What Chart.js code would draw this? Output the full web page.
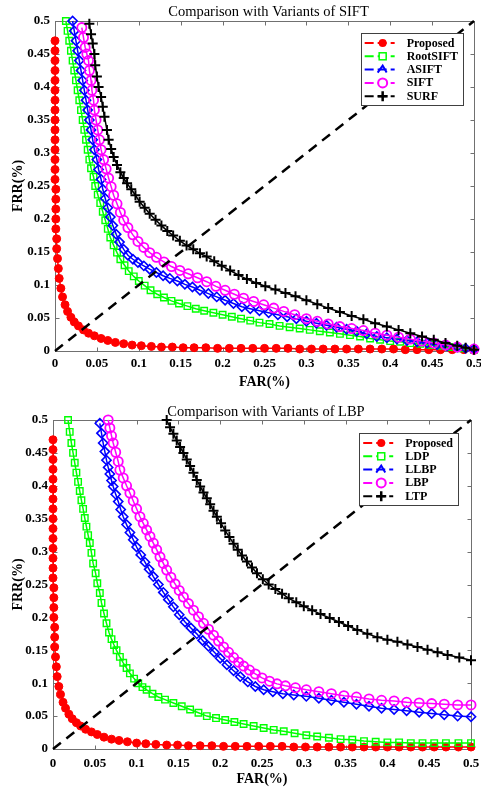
<!DOCTYPE html>
<html><head><meta charset="utf-8">
<script src="https://cdn.jsdelivr.net/npm/chart.js@4.4.0/dist/chart.umd.min.js"></script>
<style>
html,body{margin:0;padding:0;background:#fff;overflow:hidden;width:481px;height:787px;}
#w1{position:absolute;left:0;top:0;}
#w2{position:absolute;left:0;top:393px;}
</style></head><body>
<div id="w1"><canvas id="c1" width="481" height="393"></canvas></div>
<div id="w2"><canvas id="c2" width="481" height="396"></canvas></div>
<script>
// ---------- data: [FAR, FRR] pairs ----------
const axisTicks = [0,0.05,0.1,0.15,0.2,0.25,0.3,0.35,0.4,0.45,0.5];
const axisTickLabels = ['0','0.05','0.1','0.15','0.2','0.25','0.3','0.35','0.4','0.45','0.5'];

const titleSift = 'Comparison with Variants of SIFT';
const titleLbp = 'Comparison with Variants of LBP';
const namesSift = ['Proposed','RootSIFT','ASIFT','SIFT','SURF'];
const namesLbp = ['Proposed','LDP','LLBP','LBP','LTP'];

const proposedSift = [[0,.47],[0,.455],[0,.44],[0,.425],[0,.41],[0,.395],[0,.38],[0,.365],[0,.35],[0,.335],[0,.32],[0,.305],[0,.29],[0,.275],[0,.26],[.001,.245],[.001,.23],[.001,.215],[.001,.2],[.001,.185],[.002,.17],[.002,.155],[.003,.14],[.004,.125],[.005,.11],[.007,.095],[.009,.082],[.012,.07],[.015,.06],[.019,.051],[.023,.044],[.028,.038],[.034,.032],[.04,.027],[.047,.023],[.055,.019],[.063,.016],[.072,.013],[.082,.011],[.092,.009],[.103,.008],[.115,.007],[.127,.006],[.14,.006],[.153,.005],[.166,.005],[.18,.005],[.194,.004],[.208,.004],[.222,.004],[.236,.004],[.25,.004],[.264,.004],[.278,.004],[.292,.003],[.306,.003],[.32,.003],[.334,.003],[.348,.003],[.362,.003],[.376,.003],[.39,.003],[.404,.003],[.418,.002],[.432,.002],[.446,.002],[.46,.002],[.474,.002],[.488,.002],[.5,.001]];
const rootSift = [[.013,.5],[.015,.485],[.017,.47],[.019,.455],[.021,.44],[.023,.425],[.025,.41],[.027,.395],[.029,.38],[.031,.365],[.033,.35],[.035,.335],[.037,.32],[.039,.305],[.041,.29],[.043,.277],[.046,.264],[.048,.25],[.051,.237],[.054,.224],[.057,.211],[.06,.198],[.063,.185],[.066,.172],[.07,.16],[.074,.149],[.078,.139],[.083,.13],[.088,.121],[.094,.113],[.1,.106],[.107,.099],[.114,.092],[.122,.086],[.13,.081],[.139,.076],[.148,.072],[.158,.068],[.168,.064],[.178,.061],[.189,.058],[.2,.055],[.211,.052],[.222,.049],[.233,.046],[.244,.043],[.256,.041],[.268,.038],[.28,.036],[.292,.034],[.304,.032],[.316,.03],[.328,.028],[.34,.026],[.352,.024],[.364,.022],[.376,.019],[.388,.017],[.4,.015],[.412,.014],[.424,.012],[.436,.011],[.448,.009],[.46,.008],[.472,.006],[.484,.004],[.5,.002]];
const aSift = [[.021,.5],[.023,.485],[.025,.47],[.027,.455],[.029,.44],[.031,.425],[.033,.41],[.035,.395],[.037,.38],[.039,.365],[.041,.35],[.043,.335],[.045,.32],[.047,.305],[.05,.29],[.052,.275],[.055,.26],[.057,.245],[.06,.231],[.063,.217],[.066,.203],[.069,.19],[.073,.177],[.077,.165],[.082,.154],[.087,.145],[.093,.139],[.099,.134],[.106,.129],[.113,.124],[.121,.119],[.129,.114],[.137,.11],[.146,.106],[.155,.101],[.164,.097],[.173,.092],[.183,.087],[.193,.082],[.203,.077],[.213,.072],[.223,.067],[.233,.064],[.244,.061],[.255,.058],[.266,.055],[.277,.052],[.288,.049],[.3,.045],[.312,.042],[.324,.039],[.336,.036],[.348,.033],[.36,.03],[.372,.026],[.384,.022],[.396,.02],[.408,.018],[.42,.016],[.432,.014],[.444,.012],[.456,.01],[.468,.008],[.48,.006],[.49,.004],[.5,.003]];
const sift = [[.032,.49],[.034,.475],[.036,.46],[.038,.45],[.04,.44],[.041,.425],[.043,.41],[.044,.395],[.046,.38],[.047,.365],[.049,.35],[.051,.335],[.053,.32],[.055,.305],[.058,.29],[.061,.276],[.064,.262],[.067,.249],[.07,.236],[.074,.223],[.078,.21],[.082,.198],[.087,.187],[.093,.176],[.099,.166],[.106,.157],[.113,.149],[.121,.142],[.13,.135],[.139,.128],[.149,.122],[.159,.117],[.17,.111],[.181,.105],[.192,.098],[.203,.092],[.214,.086],[.225,.08],[.237,.075],[.249,.07],[.261,.065],[.273,.06],[.286,.055],[.3,.049],[.313,.045],[.326,.041],[.34,.037],[.354,.034],[.368,.031],[.382,.027],[.396,.024],[.41,.021],[.424,.018],[.438,.015],[.452,.012],[.466,.009],[.48,.006],[.5,.003]];
const surf = [[.041,.496],[.043,.48],[.045,.466],[.047,.45],[.048,.433],[.05,.416],[.052,.4],[.055,.385],[.057,.37],[.059,.355],[.062,.335],[.064,.32],[.067,.306],[.07,.294],[.074,.282],[.078,.271],[.082,.262],[.086,.254],[.091,.245],[.096,.236],[.101,.226],[.107,.217],[.113,.208],[.12,.199],[.127,.19],[.134,.182],[.141,.175],[.149,.167],[.157,.16],[.165,.154],[.173,.148],[.181,.143],[.19,.136],[.199,.129],[.209,.122],[.219,.115],[.229,.109],[.24,.103],[.251,.098],[.263,.093],[.275,.088],[.287,.083],[.3,.077],[.313,.071],[.326,.065],[.34,.059],[.354,.053],[.368,.048],[.382,.042],[.396,.037],[.41,.032],[.424,.027],[.438,.022],[.452,.017],[.466,.012],[.48,.008],[.49,.005],[.5,.002]];

const proposedLbp = [[0,.47],[0,.455],[0,.44],[0,.425],[0,.41],[0,.395],[0,.38],[0,.365],[0,.35],[0,.335],[0,.32],[0,.305],[0,.29],[0,.275],[0,.26],[.001,.245],[.001,.23],[.001,.215],[.001,.2],[.002,.185],[.002,.17],[.002,.155],[.003,.14],[.004,.125],[.005,.11],[.007,.095],[.009,.083],[.012,.071],[.015,.062],[.019,.053],[.023,.046],[.028,.04],[.033,.035],[.039,.03],[.046,.026],[.053,.022],[.061,.018],[.07,.015],[.079,.013],[.089,.011],[.1,.009],[.111,.008],[.123,.007],[.136,.006],[.149,.006],[.162,.005],[.176,.005],[.19,.005],[.204,.004],[.218,.004],[.232,.004],[.246,.004],[.26,.004],[.274,.004],[.288,.003],[.302,.003],[.316,.003],[.33,.003],[.344,.003],[.358,.003],[.372,.003],[.386,.003],[.4,.003],[.414,.003],[.428,.003],[.442,.003],[.456,.003],[.47,.003],[.485,.003],[.5,.003]];
const ldp = [[.018,.5],[.02,.482],[.022,.465],[.024,.45],[.026,.435],[.028,.42],[.03,.406],[.032,.392],[.034,.378],[.036,.365],[.038,.351],[.04,.338],[.042,.325],[.044,.313],[.046,.298],[.048,.282],[.051,.267],[.053,.252],[.056,.237],[.058,.222],[.061,.206],[.064,.191],[.067,.177],[.07,.167],[.073,.158],[.076,.15],[.08,.14],[.084,.131],[.088,.123],[.092,.115],[.097,.107],[.102,.1],[.107,.094],[.112,.09],[.119,.084],[.126,.079],[.134,.075],[.144,.07],[.154,.065],[.164,.06],[.174,.055],[.184,.05],[.195,.047],[.206,.044],[.217,.041],[.228,.038],[.24,.035],[.252,.032],[.264,.029],[.276,.027],[.289,.024],[.303,.021],[.316,.019],[.33,.017],[.344,.015],[.358,.014],[.372,.012],[.386,.011],[.4,.01],[.414,.01],[.428,.009],[.442,.009],[.456,.009],[.47,.009],[.485,.009],[.5,.009]];
const llbp = [[.056,.495],[.058,.48],[.06,.465],[.062,.452],[.064,.439],[.066,.428],[.068,.418],[.07,.408],[.072,.399],[.075,.387],[.078,.376],[.081,.364],[.084,.353],[.088,.341],[.092,.329],[.096,.318],[.1,.307],[.105,.295],[.11,.284],[.115,.273],[.12,.262],[.126,.25],[.132,.238],[.138,.227],[.144,.216],[.151,.204],[.158,.193],[.165,.184],[.172,.175],[.179,.165],[.186,.156],[.193,.147],[.2,.138],[.208,.128],[.216,.119],[.224,.11],[.233,.102],[.242,.095],[.252,.09],[.263,.087],[.275,.084],[.288,.082],[.303,.08],[.318,.077],[.333,.074],[.348,.071],[.363,.068],[.378,.065],[.393,.062],[.408,.06],[.423,.058],[.438,.056],[.453,.054],[.468,.052],[.484,.05],[.5,.049]];
const lbp = [[.066,.5],[.068,.488],[.07,.476],[.072,.465],[.075,.451],[.078,.437],[.08,.424],[.084,.412],[.088,.4],[.092,.389],[.096,.377],[.1,.365],[.104,.353],[.108,.343],[.112,.333],[.116,.323],[.12,.313],[.124,.303],[.128,.292],[.132,.282],[.136,.272],[.141,.261],[.146,.251],[.151,.241],[.156,.231],[.162,.221],[.168,.211],[.174,.201],[.18,.191],[.186,.182],[.192,.173],[.198,.164],[.204,.155],[.21,.147],[.216,.139],[.222,.132],[.228,.126],[.235,.12],[.242,.114],[.25,.108],[.259,.103],[.268,.099],[.278,.096],[.29,.093],[.303,.09],[.318,.087],[.333,.084],[.348,.081],[.363,.079],[.378,.076],[.393,.074],[.408,.073],[.423,.071],[.438,.07],[.453,.069],[.468,.068],[.484,.067],[.5,.067]];
const ltp = [[.136,.5],[.14,.489],[.144,.479],[.148,.469],[.152,.459],[.156,.45],[.16,.44],[.164,.43],[.168,.42],[.172,.409],[.176,.399],[.18,.39],[.184,.381],[.188,.372],[.192,.362],[.196,.353],[.201,.343],[.206,.332],[.211,.322],[.216,.312],[.221,.303],[.226,.294],[.232,.285],[.238,.276],[.244,.267],[.251,.258],[.258,.25],[.266,.243],[.274,.236],[.282,.229],[.291,.223],[.3,.217],[.31,.211],[.32,.205],[.331,.199],[.342,.193],[.353,.187],[.364,.181],[.376,.175],[.388,.17],[.4,.166],[.412,.163],[.424,.159],[.436,.155],[.448,.151],[.46,.147],[.472,.143],[.486,.139],[.5,.135]];
const eerLine = [[0,0],[0.5,0.5]];

// ---------- styles ----------
const STYLES = [
  {color:'#ff0000', pointStyle:'circle', r:4, fill:'#ff0000', pbw:1, key:'dot'},
  {color:'#00ff00', pointStyle:'rect', r:4.6, fill:'rgba(255,255,255,0)', pbw:1.4, key:'square'},
  {color:'#0000ff', pointStyle:'rectRot', r:4.6, fill:'rgba(255,255,255,0)', pbw:1.6, key:'caret'},
  {color:'#ff00ff', pointStyle:'circle', r:4.6, fill:'rgba(255,255,255,0)', pbw:1.8, key:'ring'},
  {color:'#000000', pointStyle:'cross', r:5, fill:'#000', pbw:2, key:'plus'}
];
const SERIF = '"Liberation Serif", "Times New Roman", serif';

function toPts(arr){ return arr.map(p => ({x:p[0], y:p[1]})); }

function drawMarker(ctx, key, color, x, y){
  ctx.save();
  ctx.strokeStyle = color; ctx.fillStyle = color;
  ctx.beginPath();
  if (key === 'dot') { ctx.arc(x,y,4,0,Math.PI*2); ctx.fill(); }
  else if (key === 'square') { ctx.lineWidth=1.5; ctx.fillStyle='#fff'; ctx.fillRect(x-3.5,y-3.5,7,7); ctx.strokeRect(x-3.5,y-3.5,7,7); }
  else if (key === 'caret') { ctx.lineWidth=2; ctx.moveTo(x-5,y+3); ctx.lineTo(x,y-4); ctx.lineTo(x+4,y+3); ctx.stroke(); }
  else if (key === 'ring') { ctx.lineWidth=2; ctx.fillStyle='#fff'; ctx.arc(x,y,4.5,0,Math.PI*2); ctx.fill(); ctx.stroke(); }
  else if (key === 'plus') { ctx.lineWidth=2.5; ctx.moveTo(x-5,y); ctx.lineTo(x+5,y); ctx.moveTo(x,y-5); ctx.lineTo(x,y+5); ctx.stroke(); }
  ctx.restore();
}

const framePlugin = {
  id: 'frame',
  beforeDatasetsDraw(chart, args, opts){
    const {ctx, chartArea:a, scales:{x, y}} = chart;
    ctx.save();
    ctx.strokeStyle = '#707070'; ctx.lineWidth = 1;
    const L = Math.round(a.left)+0.5, R = Math.round(a.right)+0.5, T = Math.round(a.top)+0.5, B = Math.round(a.bottom)+0.5;
    ctx.strokeRect(L, T, R-L, B-T);
    ctx.beginPath();
    axisTicks.forEach(v => {
      const px = Math.round(x.getPixelForValue(v))+0.5;
      ctx.moveTo(px, B); ctx.lineTo(px, B-4);
      ctx.moveTo(px, T); ctx.lineTo(px, T+4);
      const py = Math.round(y.getPixelForValue(v))+0.5;
      ctx.moveTo(L, py); ctx.lineTo(L+4, py);
      ctx.moveTo(R, py); ctx.lineTo(R-4, py);
    });
    ctx.stroke();
    ctx.restore();
  },
  afterDraw(chart, args, opts){
    const {ctx, chartArea:a} = chart;
    ctx.save();
    // title
    ctx.fillStyle = '#000';
    ctx.font = '14.5px ' + SERIF;
    ctx.textAlign = 'center'; ctx.textBaseline = 'middle';
    ctx.fillText(opts.title, (a.left+a.right)/2 + 4, opts.titleY);
    // legend
    ctx.font = 'bold 12px ' + SERIF;
    const maxW = Math.max(...opts.names.map(n => ctx.measureText(n).width));
    const w = 46 + maxW + 5, h = 72;
    const right = a.right - opts.legendRight, top = a.top + opts.legendTop, left = right - w;
    ctx.fillStyle = '#fff';
    ctx.fillRect(left, top, w, h);
    ctx.strokeStyle = '#404040'; ctx.lineWidth = 1;
    ctx.strokeRect(Math.round(left)+0.5, Math.round(top)+0.5, Math.round(w), h);
    opts.names.forEach((n, i) => {
      const st = STYLES[i];
      const cy = top + 10 + i*13.3;
      ctx.save();
      ctx.strokeStyle = st.color; ctx.lineWidth = 2;
      ctx.setLineDash([9,4]);
      ctx.beginPath(); ctx.moveTo(left+4, cy); ctx.lineTo(left+34, cy); ctx.stroke();
      ctx.restore();
      drawMarker(ctx, st.key, st.color, left+22, cy);
      ctx.fillStyle = '#000'; ctx.textAlign = 'left'; ctx.textBaseline = 'middle';
      ctx.fillText(n, left+46, cy+0.5);
    });
    ctx.restore();
  }
};

function makeChart(id, seriesList, names, title, lay){
  const datasets = seriesList.map((s, i) => {
    const st = STYLES[i];
    return {
      label: names[i], data: toPts(s), showLine: true,
      borderColor: st.color, backgroundColor: st.fill, borderWidth: 1.5,
      pointStyle: st.pointStyle, pointRadius: st.r, pointBorderWidth: st.pbw,
      pointBorderColor: st.color, pointBackgroundColor: st.fill,
      tension: 0, clip: false, order: 10 - i
    };
  });
  datasets.push({
    label: 'EER', data: toPts(eerLine), showLine: true, borderColor: '#000', borderWidth: 2.5,
    borderDash: [10,7], pointRadius: 0, clip: false, order: 0
  });
  const tickFont = {family: SERIF, weight: 'bold', size: 13};
  const titleFont = {family: SERIF, weight: 'bold', size: 14};
  return new Chart(document.getElementById(id), {
    type: 'scatter',
    data: {datasets},
    options: {
      responsive: false, animation: false, events: [],
      layout: {padding: {top: lay.top, right: lay.right, left: 0, bottom: 0}},
      plugins: {
        legend: {display: false}, tooltip: {enabled: false},
        frame: {title, names, titleY: lay.titleY, legendRight: lay.legendRight, legendTop: lay.legendTop}
      },
      scales: {
        x: {
          type: 'linear', min: 0, max: 0.5,
          afterBuildTicks: s => { s.ticks = axisTicks.map(v => ({value: v})); },
          ticks: {callback: (v, i) => axisTickLabels[i], font: tickFont, color: '#000', padding: lay.xpad, maxRotation: 0, autoSkip: false},
          grid: {display: false, drawTicks: false}, border: {display: false},
          title: {display: true, text: 'FAR(%)', font: titleFont, color: '#000', padding: {top: 0, bottom: lay.xtb}},
          afterFit: s => { s.height = lay.xh; s.paddingLeft = 0; s.paddingRight = 0; }
        },
        y: {
          type: 'linear', min: 0, max: 0.5,
          afterBuildTicks: s => { s.ticks = axisTicks.map(v => ({value: v})); },
          ticks: {callback: (v, i) => axisTickLabels[i], font: tickFont, color: '#000', padding: 5, autoSkip: false},
          grid: {display: false, drawTicks: false}, border: {display: false},
          title: {display: true, text: 'FRR(%)', font: titleFont, color: '#000', padding: {top: lay.ytp, bottom: 0}},
          afterFit: s => { s.width = lay.yw; s.paddingTop = 0; s.paddingBottom = 0; }
        }
      }
    },
    plugins: [framePlugin]
  });
}

makeChart('c1', [proposedSift, rootSift, aSift, sift, surf], namesSift, titleSift,
  {top: 21, right: 7, yw: 55, xh: 42, xpad: 5, xtb: 2.6, ytp: 10, titleY: 12, legendRight: 11, legendTop: 12});
makeChart('c2', [proposedLbp, ldp, llbp, lbp, ltp], namesLbp, titleLbp,
  {top: 27, right: 10, yw: 53, xh: 40, xpad: 7, xtb: 1, ytp: 10, titleY: 19, legendRight: 13, legendTop: 13});
</script>
</body></html>
